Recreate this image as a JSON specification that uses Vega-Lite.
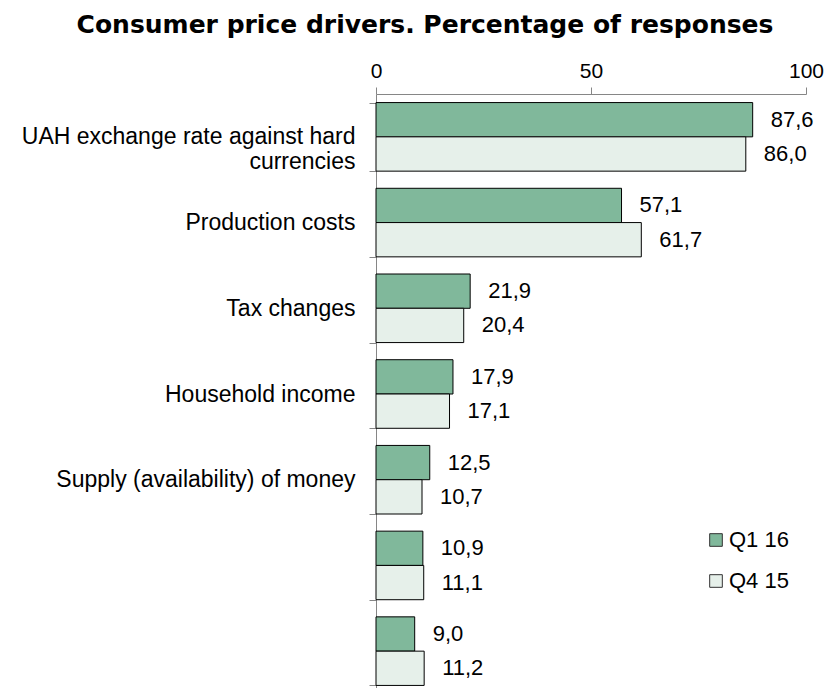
{
  "$schema": "https://vega.github.io/schema/vega-lite/v6.json",
  "autosize": {"type": "none"},
  "padding": {"left": 376, "top": 94, "right": 21, "bottom": 0},
  "width": 430,
  "height": 600,
  "config": {
    "font": "Liberation Sans",
    "view": {"stroke": null},
    "locale": {"number": {"decimal": ",", "thousands": " ", "grouping": [3], "currency": ["", ""]}}
  },
  "title": {
    "text": "Consumer price drivers. Percentage of responses",
    "font": "DejaVu Sans",
    "fontSize": 25,
    "fontWeight": "bold",
    "color": "#000000",
    "anchor": "middle",
    "frame": "group",
    "dx": -166,
    "offset": 22
  },
  "data": {
    "values": [
      {"driver": "UAH exchange rate against hard currencies", "period": "Q1 16", "pct": 87.6},
      {"driver": "UAH exchange rate against hard currencies", "period": "Q4 15", "pct": 86.0},
      {"driver": "Production costs", "period": "Q1 16", "pct": 57.1},
      {"driver": "Production costs", "period": "Q4 15", "pct": 61.7},
      {"driver": "Tax changes", "period": "Q1 16", "pct": 21.9},
      {"driver": "Tax changes", "period": "Q4 15", "pct": 20.4},
      {"driver": "Household income", "period": "Q1 16", "pct": 17.9},
      {"driver": "Household income", "period": "Q4 15", "pct": 17.1},
      {"driver": "Supply (availability) of money", "period": "Q1 16", "pct": 12.5},
      {"driver": "Supply (availability) of money", "period": "Q4 15", "pct": 10.7},
      {"driver": " ", "period": "Q1 16", "pct": 10.9},
      {"driver": " ", "period": "Q4 15", "pct": 11.1},
      {"driver": "  ", "period": "Q1 16", "pct": 9.0},
      {"driver": "  ", "period": "Q4 15", "pct": 11.2}
    ]
  },
  "encoding": {
    "y": {
      "field": "driver",
      "type": "nominal",
      "sort": ["UAH exchange rate against hard currencies", "Production costs", "Tax changes", "Household income", "Supply (availability) of money", " ", "  "],
      "scale": {"paddingInner": 0.2, "paddingOuter": 0.1},
      "title": null,
      "axis": {
        "orient": "left",
        "tickBand": "extent",
        "tickSize": 7,
        "tickColor": "#868686",
        "domainColor": "#868686",
        "labelFontSize": 23,
        "labelColor": "#000000",
        "labelPadding": 14,
        "labelLineHeight": 25,
        "labelLimit": 400,
        "grid": false,
        "labelExpr": "datum.value == 'UAH exchange rate against hard currencies' ? ['UAH exchange rate against hard', 'currencies'] : datum.value"
      }
    },
    "yOffset": {
      "field": "period",
      "type": "nominal",
      "sort": ["Q1 16", "Q4 15"],
      "scale": {"paddingInner": 0, "paddingOuter": 0}
    },
    "x": {
      "field": "pct",
      "type": "quantitative",
      "scale": {"domain": [0, 100], "nice": false},
      "title": null,
      "axis": {
        "orient": "top",
        "values": [0, 50, 100],
        "tickSize": 7,
        "tickColor": "#868686",
        "domainColor": "#868686",
        "labelFontSize": 21,
        "labelColor": "#000000",
        "labelBaseline": "alphabetic",
        "labelPadding": 10,
        "labelFlush": false,
        "grid": false
      }
    }
  },
  "layer": [
    {
      "mark": {"type": "bar", "stroke": "#000000", "strokeWidth": 1},
      "encoding": {
        "color": {
          "field": "period",
          "type": "nominal",
          "scale": {"domain": ["Q1 16", "Q4 15"], "range": ["#80b89b", "#e6f0ea"]},
          "legend": {
            "orient": "none",
            "legendX": 329,
            "legendY": 435,
            "title": null,
            "symbolType": "square",
            "symbolSize": 160,
            "symbolStrokeColor": "#333333",
            "symbolStrokeWidth": 1,
            "symbolOpacity": 1,
            "labelFontSize": 22,
            "labelColor": "#000000",
            "labelOffset": 2,
            "rowPadding": 19
          }
        }
      }
    },
    {
      "mark": {"type": "text", "align": "left", "baseline": "middle", "dx": 18, "fontSize": 22, "color": "#000000"},
      "encoding": {
        "text": {"field": "pct", "type": "quantitative", "format": ".1f"}
      }
    }
  ]
}
